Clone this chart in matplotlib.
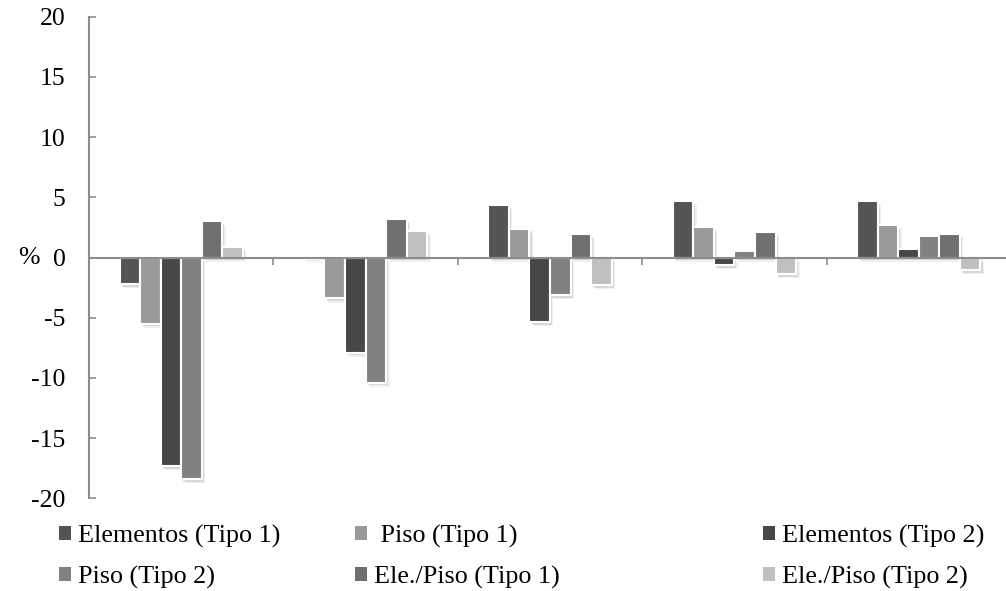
import matplotlib
matplotlib.use("Agg")
import matplotlib.pyplot as plt
import matplotlib.patheffects as pe
from matplotlib.patches import Patch
import numpy as np

plt.rcParams['font.family'] = ['Liberation Serif', 'DejaVu Serif']

# Five periods (no category labels are shown on the axis)
periodos = [1, 2, 3, 4, 5]

series_labels = ["Elementos (Tipo 1)", " Piso (Tipo 1)", "Elementos (Tipo 2)",
                 "Piso (Tipo 2)", "Ele./Piso (Tipo 1)", "Ele./Piso (Tipo 2)"]
series_colors = ["#545454", "#9a9a9a", "#474747", "#818181", "#6f6f6f", "#c0c0c0"]

elementos_t1 = [-2.2, -0.1, 4.4, 4.7, 4.7]
piso_t1 = [-5.5, -3.4, 2.4, 2.55, 2.7]
elementos_t2 = [-17.3, -7.9, -5.35, -0.62, 0.73]
piso_t2 = [-18.4, -10.4, -3.1, 0.57, 1.78]
ele_piso_t1 = [3.0, 3.18, 1.93, 2.1, 1.95]
ele_piso_t2 = [0.88, 2.22, -2.28, -1.38, -1.05]

y_ticks = [-20, -15, -10, -5, 0, 5, 10, 15, 20]

series_values = [elementos_t1, piso_t1, elementos_t2, piso_t2, ele_piso_t1, ele_piso_t2]

W, H = 1006, 591
fig = plt.figure(figsize=(W / 100, H / 100), dpi=100)
ax = fig.add_axes([89 / W, 1 - 498.3 / H, (1011 - 89) / W, (498.3 - 16.7) / H])

x = np.arange(len(periodos))
bar_w = 0.1115
shadow = [pe.SimplePatchShadow(offset=(2.5, -3.0), shadow_rgbFace='k', alpha=0.06),
          pe.SimplePatchShadow(offset=(1.5, -2.0), shadow_rgbFace='k', alpha=0.10),
          pe.Normal()]
for i, (vals, col) in enumerate(zip(series_values, series_colors)):
    bars = ax.bar(x + (i - 2.5) * bar_w, vals, width=bar_w, color=col,
                  edgecolor='white', linewidth=1.5, zorder=2)
    for b in bars:
        b.set_path_effects(shadow)

ax.set_xlim(-0.5, 4.5)
ax.set_ylim(-20, 20)

axis_gray = '#8c8c8c'
for s in ['top', 'right']:
    ax.spines[s].set_visible(False)
ax.spines['left'].set_color(axis_gray)
ax.spines['left'].set_linewidth(1.5)
ax.spines['bottom'].set_position(('data', 0))
ax.spines['bottom'].set_color(axis_gray)
ax.spines['bottom'].set_linewidth(1.5)
ax.spines['bottom'].set_zorder(3)

ax.set_yticks(y_ticks)
ax.set_yticklabels([str(v) for v in y_ticks])
ax.tick_params(axis='y', direction='in', length=4.8, width=1.2, color=axis_gray,
               labelcolor='black', labelsize=18.5, pad=17)
ax.set_xticks(x[:-1] + 0.5)
ax.set_xticklabels([])
ax.tick_params(axis='x', direction='out', length=5, width=1.2, color=axis_gray)

fig.text(29 / W, 1 - 258 / H, '%', ha='center', va='center', fontsize=18.5)

# Legend laid out as three columns of two rows
col_x = [59, 355, 763]
for c, xpx in enumerate(col_x):
    idx = [c, c + 3]
    handles = [Patch(facecolor=series_colors[k], edgecolor='none') for k in idx]
    labels = [series_labels[k] for k in idx]
    fig.legend(handles, labels, loc='center left',
               bbox_to_anchor=(xpx / W, 1 - 557 / H), frameon=False,
               borderpad=0, borderaxespad=0, handlelength=0.47,
               handleheight=0.45, handletextpad=0.25, labelspacing=0.68,
               fontsize=18.8)

fig.savefig('out.png', dpi=100)
